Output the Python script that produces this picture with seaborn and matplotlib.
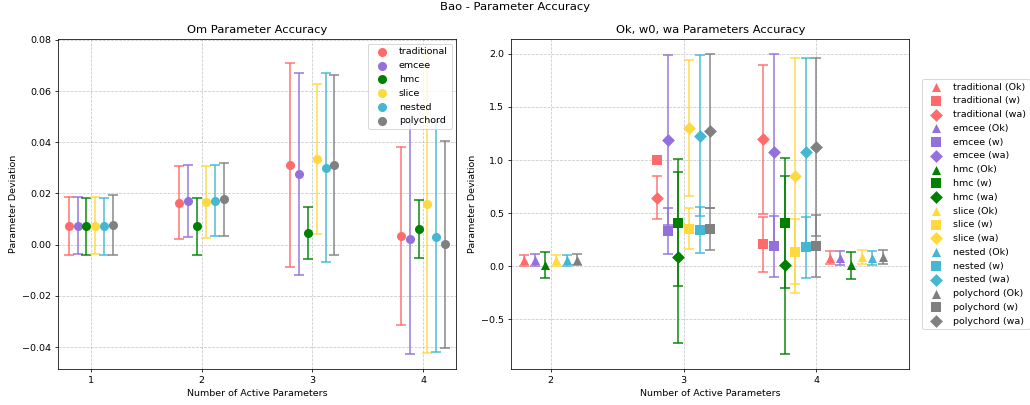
import numpy as np
import pandas as pd
import matplotlib
matplotlib.use('Agg')
import matplotlib.pyplot as plt
import seaborn as sns

# methods and their values
methods = ['traditional', 'emcee', 'hmc', 'slice', 'nested', 'polychord']

# Om deviation at 1..4 active parameters
om_x = [1, 2, 3, 4]
om_mean = [
    [0.0072, 0.0164, 0.0311, 0.0032],
    [0.0074, 0.0170, 0.0275, 0.0023],
    [0.0071, 0.0071, 0.0046, 0.0061],
    [0.0074, 0.0166, 0.0334, 0.0160],
    [0.0071, 0.0171, 0.0300, 0.0029],
    [0.0077, 0.0176, 0.0310, 0.0001],
]
om_err = [
    [0.0112, 0.0143, 0.0399, 0.0348],
    [0.0113, 0.0140, 0.0396, 0.0452],
    [0.0111, 0.0111, 0.0101, 0.0114],
    [0.0113, 0.0139, 0.0292, 0.0585],
    [0.0111, 0.0139, 0.0370, 0.0449],
    [0.0117, 0.0141, 0.0352, 0.0405],
]

# Ok deviation (2 and 4 active parameters)
ok_x = [2, 4]
ok_mean = [
    [0.056, 0.080],
    [0.057, 0.079],
    [0.012, 0.008],
    [0.056, 0.083],
    [0.056, 0.079],
    [0.060, 0.082],
]
ok_err = [
    [0.052, 0.064],
    [0.053, 0.064],
    [0.123, 0.126],
    [0.052, 0.066],
    [0.052, 0.064],
    [0.053, 0.065],
]

# w0 / wa deviation (3 and 4 active parameters)
w_x = [3, 4]
w_mean = [
    [1.000, 0.204],
    [0.329, 0.185],
    [0.408, 0.408],
    [0.354, 0.135],
    [0.339, 0.176],
    [0.351, 0.191],
]
w_err = [
    [0.000, 0.257],
    [0.217, 0.290],
    [0.597, 0.613],
    [0.190, 0.305],
    [0.218, 0.290],
    [0.200, 0.290],
]
wa_mean = [
    [0.643, 1.194],
    [1.190, 1.075],
    [0.085, 0.009],
    [1.300, 0.853],
    [1.229, 1.075],
    [1.273, 1.122],
]
wa_err = [
    [0.203, 0.700],
    [0.800, 0.925],
    [0.806, 0.840],
    [0.642, 1.110],
    [0.760, 0.885],
    [0.727, 0.840],
]

colors = ['#FF6B6B', '#9370DB', 'green', '#FFD93D', '#45B7D1', 'gray']
markers = {'Ok': '^', 'w': 's', 'wa': 'D'}
# extra shift of each parameter group at a given x on the right panel
group_shift = {('Ok', 2): 0.0, ('Ok', 4): 0.3, ('w', 3): 0.0, ('w', 4): -0.2,
               ('wa', 3): 0.0, ('wa', 4): -0.2}
step = 0.08

# long tables
rows = []
for i, m in enumerate(methods):
    for j, x in enumerate(om_x):
        rows.append({'method': m, 'idx': i, 'n': x, 'pos': x + (i - 2.5) * step,
                     'dev': om_mean[i][j], 'err': om_err[i][j]})
om_df = pd.DataFrame(rows)

rows = []
for i, m in enumerate(methods):
    for p, xs, mean, err in [('Ok', ok_x, ok_mean, ok_err),
                             ('w', w_x, w_mean, w_err),
                             ('wa', w_x, wa_mean, wa_err)]:
        for j, x in enumerate(xs):
            rows.append({'method': m, 'idx': i, 'param': p, 'n': x,
                         'pos': x + (i - 2.5) * step + group_shift[(p, x)],
                         'dev': mean[i][j], 'err': err[i][j]})
par_df = pd.DataFrame(rows)

fig, (ax1, ax2) = plt.subplots(1, 2, figsize=(15, 5.9), dpi=1030 / 15)
fig.subplots_adjust(left=0.056, right=0.883, bottom=0.088, top=0.904, wspace=0.137)

# left: Om
for i, m in enumerate(methods):
    d = om_df[om_df['method'] == m]
    ax1.errorbar(d['pos'], d['dev'], yerr=d['err'], fmt='none', ecolor=colors[i],
                 elinewidth=2, capsize=5, capthick=2, alpha=0.75)
    sns.scatterplot(x=d['pos'], y=d['dev'], color=colors[i], marker='o', s=90,
                    linewidth=0, label=m, ax=ax1, zorder=3)
ax1.set_title('Om Parameter Accuracy', fontsize=12)
ax1.set_xlabel('Number of Active Parameters')
ax1.set_ylabel('Parameter Deviation')
ax1.set_xticks(om_x)
ax1.set_xlim(0.7, 4.3)
ax1.grid(True, linestyle='--', alpha=0.7)
ax1.legend(loc='upper right')

# right: Ok, w0, wa
for i, m in enumerate(methods):
    for p in ['Ok', 'w', 'wa']:
        d = par_df[(par_df['method'] == m) & (par_df['param'] == p)]
        ax2.errorbar(d['pos'], d['dev'], yerr=d['err'], fmt='none', ecolor=colors[i],
                     elinewidth=2, capsize=5, capthick=2, alpha=0.75)
        sns.scatterplot(x=d['pos'], y=d['dev'], color=colors[i], marker=markers[p],
                        s=90, linewidth=0, label=f'{m} ({p})', ax=ax2, zorder=3)
ax2.set_title('Ok, w0, wa Parameters Accuracy', fontsize=12)
ax2.set_xlabel('Number of Active Parameters')
ax2.set_ylabel('Parameter Deviation')
ax2.set_xticks([2, 3, 4])
ax2.set_xlim(1.7, 4.7)
ax2.grid(True, linestyle='--', alpha=0.7)
ax2.legend(loc='center left', bbox_to_anchor=(1.02, 0.5))

fig.suptitle('Bao - Parameter Accuracy', fontsize=12, y=0.995)
fig.savefig('out.png', dpi=1030 / 15)
